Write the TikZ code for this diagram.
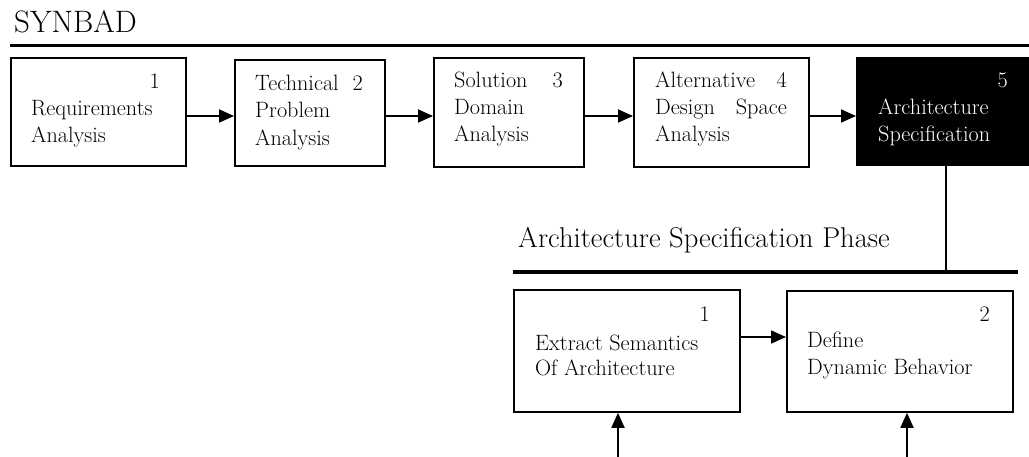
\documentclass[tikz,border=0pt]{standalone}
\usetikzlibrary{arrows.meta}
\begin{document}
\begin{tikzpicture}[x=1pt,y=-1pt,
  box/.style={draw=black,line width=1.8pt,fill=white,inner sep=0pt,anchor=north west},
  blackbox/.style={fill=black,inner sep=0pt,anchor=north west},
  txt/.style={inner sep=0pt,anchor=base west,font=\fontsize{22.2}{26}\selectfont},
  num/.style={inner sep=0pt,anchor=base east,font=\fontsize{22.2}{26}\selectfont},
  title/.style={inner sep=0pt,anchor=base west,font=\fontsize{31}{36}\selectfont},
  ptitle/.style={inner sep=0pt,anchor=base west,font=\fontsize{28.6}{34}\selectfont},
  rule/.style={line width=3.2pt},
  conn/.style={line width=1.8pt},
  arr/.style={conn,-{Triangle[length=15pt,width=13pt]}}]
\useasboundingbox (0,0) rectangle (1029,457);
\fill[white] (0,0) rectangle (1029,457);

% top title and rule
\node[title] (t1) at (14,33) {SYNBAD};
\coordinate (rl1) at (10,45.5);
\coordinate (rr1) at (1029,45.5);
\draw[rule] (rl1) -- (rr1);

% top row boxes
\node[box,minimum width=175pt,minimum height=108pt] (b1) at (10,57) {};
\node[box,minimum width=150pt,minimum height=106pt] (b2) at (234,59) {};
\node[box,minimum width=150pt,minimum height=109pt] (b3) at (433,57) {};
\node[box,minimum width=175pt,minimum height=109pt] (b4) at (633,57) {};
\node[blackbox,minimum width=173pt,minimum height=109pt] (b5) at (856,57) {};

% texts box 1
\node[num] (n1) at (160,89) {1};
\node[txt] (l11) at (31,116) {Requirements};
\node[txt] (l12) at (31,143) {Analysis};
% box 2
\node[txt] (l21) at (255,91) {Technical};
\node[num] (n2) at (363,91) {2};
\node[txt] (l22) at (255,118) {Problem};
\node[txt] (l23) at (255,146) {Analysis};
% box 3
\node[txt] (l31) at (454,88) {Solution};
\node[num] (n3) at (563,88) {3};
\node[txt] (l32) at (454,115) {Domain};
\node[txt] (l33) at (454,142) {Analysis};
% box 4
\node[txt] (l41) at (655,88) {Alternative};
\node[num] (n4) at (787,88) {4};
\node[txt] (l42) at (655,115) {Design};
\node[num] (l42b) at (787,115) {Space};
\node[txt] (l43) at (655,142) {Analysis};
% box 5
\node[num,text=white] (n5) at (1008,88) {5};
\node[txt,text=white] (l51) at (878,115) {Architecture};
\node[txt,text=white] (l52) at (878,142) {Specification};

% top arrows
\coordinate (ry) at (0,116);
\draw[arr] (b1.east |- ry) -- (b2.west |- ry);
\draw[arr] (b2.east |- ry) -- (b3.west |- ry);
\draw[arr] (b3.east |- ry) -- (b4.west |- ry);
\draw[arr] (b4.east |- ry) -- (b5.west |- ry);

% phase title and rule
\node[ptitle] (t2) at (518,248) {Architecture Specification Phase};
\coordinate (rl2) at (513,272);
\coordinate (rr2) at (1018,272);
\draw[rule] (rl2) -- (rr2);
\coordinate (v) at (946,272);
\draw[conn] (b5.south -| v) -- (v);

% lower boxes
\node[box,minimum width=226pt,minimum height=122pt] (a) at (513,289) {};
\node[box,minimum width=226pt,minimum height=121pt] (b) at (786,290) {};
\node[num] (na) at (710,322) {1};
\node[txt] (la1) at (535,350) {Extract Semantics};
\node[txt] (la2) at (535,375) {Of Architecture};
\node[num] (nb) at (990,322) {2};
\node[txt] (lb1) at (807,348) {Define};
\node[txt] (lb2) at (807,374) {Dynamic Behavior};

\coordinate (ay) at (0,337);
\draw[arr] (a.east |- ay) -- (b.west |- ay);
\coordinate (ua) at (618,457);
\coordinate (ub) at (907,457);
\draw[arr] (ua) -- (ua |- a.south);
\draw[arr] (ub) -- (ub |- b.south);
\end{tikzpicture}
\end{document}
